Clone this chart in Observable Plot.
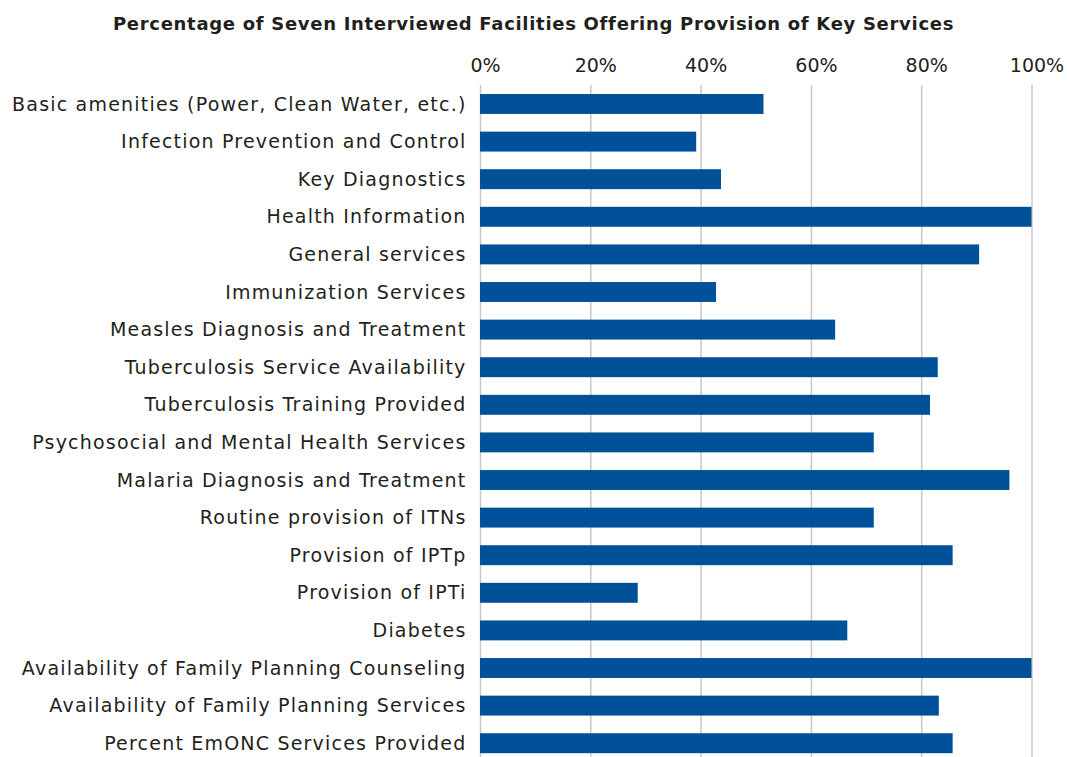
<!DOCTYPE html>
<html>
<head>
<meta charset="utf-8">
<script src="https://cdn.jsdelivr.net/npm/d3@7"></script>
<script src="https://cdn.jsdelivr.net/npm/@observablehq/plot@0.6"></script>
<style>
  html, body { margin: 0; padding: 0; background: #fff; }
  #title {
    width: 1067px; height: 39px; box-sizing: border-box; padding-top: 14px;
    text-align: center; font-family: "DejaVu Sans", sans-serif;
    font-weight: bold; font-size: 18px; line-height: 19px; color: #231f20;
    letter-spacing: 0.7px; white-space: nowrap;
  }
  #chart svg { display: block; }
  .ylab text { letter-spacing: 1.2px; }
</style>
</head>
<body>
<div id="title">Percentage of Seven Interviewed Facilities Offering Provision of Key Services</div>
<div id="chart"></div>
<script>
const services = [
  "Basic amenities (Power, Clean Water, etc.)",
  "Infection Prevention and Control",
  "Key Diagnostics",
  "Health Information",
  "General services",
  "Immunization Services",
  "Measles Diagnosis and Treatment",
  "Tuberculosis Service Availability",
  "Tuberculosis Training Provided",
  "Psychosocial and Mental Health Services",
  "Malaria Diagnosis and Treatment",
  "Routine provision of ITNs",
  "Provision of IPTp",
  "Provision of IPTi",
  "Diabetes",
  "Availability of Family Planning Counseling",
  "Availability of Family Planning Services",
  "Percent EmONC Services Provided"
];
const percents = [51.4, 39.2, 43.7, 100, 90.5, 42.8, 64.4, 83.0, 81.6, 71.4, 96.0, 71.4, 85.7, 28.6, 66.6, 100, 83.2, 85.7];
const xTicks = [0, 20, 40, 60, 80, 100];

const data = services.map((s, i) => ({service: s, value: percents[i]}));

const chart = Plot.plot({
  width: 1067,
  height: 718,
  marginLeft: 480,
  marginRight: 35.5,
  marginTop: 46,
  marginBottom: 0,
  style: {fontFamily: "'DejaVu Sans', sans-serif", fontSize: "19px", color: "#231f20", background: "#fff"},
  x: {domain: [0, 100], axis: null},
  y: {domain: services, range: [46, 723.2], paddingInner: 0.47, paddingOuter: 0.24, round: false, axis: null},
  marks: [
    Plot.gridX(xTicks, {stroke: "#c8c8c8", strokeOpacity: 1, strokeWidth: 1.5}),
    Plot.axisX(xTicks, {anchor: "top", tickSize: 0, tickPadding: 14, dx: 5, tickFormat: d => d + "%", fontSize: 19, label: null}),
    Plot.axisY({anchor: "left", tickSize: 0, tickPadding: 14, fontSize: 19, label: null, className: "ylab"}),
    Plot.barX(data, {x: "value", y: "service", fill: "#00519a"})
  ]
});
document.getElementById("chart").appendChild(chart);
</script>
</body>
</html>
